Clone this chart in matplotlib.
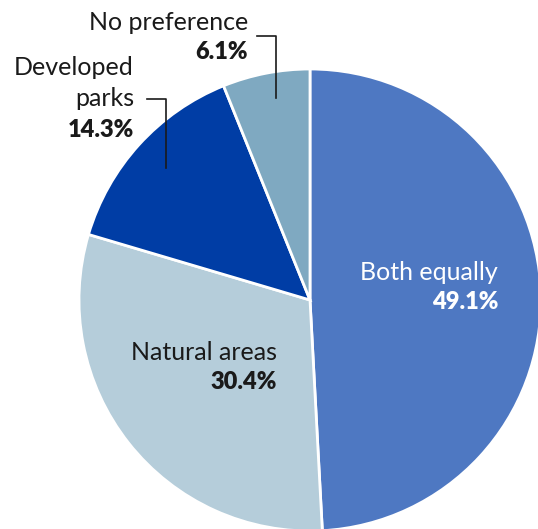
import matplotlib.pyplot as plt

labels = ['Both equally', 'Natural areas', 'Developed\nparks', 'No preference']
shares = [49.1, 30.4, 14.3, 6.1]
colors = ['#4e78c2', '#b5cdda', '#003da5', '#7fa9c1']

plt.rcParams['font.family'] = ['Lato', 'DejaVu Sans']

fig = plt.figure(figsize=(5.38, 5.29), dpi=100)
ax = fig.add_axes([0, 0, 1, 1])

# pie drawn in pixel coordinates (y down), clipped at the right and bottom edges
ax.pie(shares, colors=colors, startangle=-90, counterclock=True,
       center=(310, 300), radius=231,
       wedgeprops=dict(edgecolor='white', linewidth=2))
ax.set_xlim(0, 538)
ax.set_ylim(529, 0)
ax.set_aspect('equal')
ax.axis('off')

# labels: name and bold value, right aligned
spots = [(498, 272, 'white'), (277, 352, '#1a1a1a'),
         (134, 83, '#1a1a1a'), (248, 22, '#1a1a1a')]
for lab, val, (x, y, c) in zip(labels, shares, spots):
    ax.text(x, y, lab, ha='right', va='center', fontsize=18,
            fontweight='normal', color=c, linespacing=1.45)
    dy = 30 if '\n' not in lab else 47
    ax.text(x, y + dy, f'{val}%', ha='right', va='center', fontsize=17,
            fontweight='heavy', color=c)

# leader lines for the small slices
ax.plot([257, 276, 276], [36, 36, 98], color='#1a1a1a', lw=1.2)
ax.plot([147, 166, 166], [99, 99, 168], color='#1a1a1a', lw=1.2)

fig.savefig('out.png', dpi=100)
